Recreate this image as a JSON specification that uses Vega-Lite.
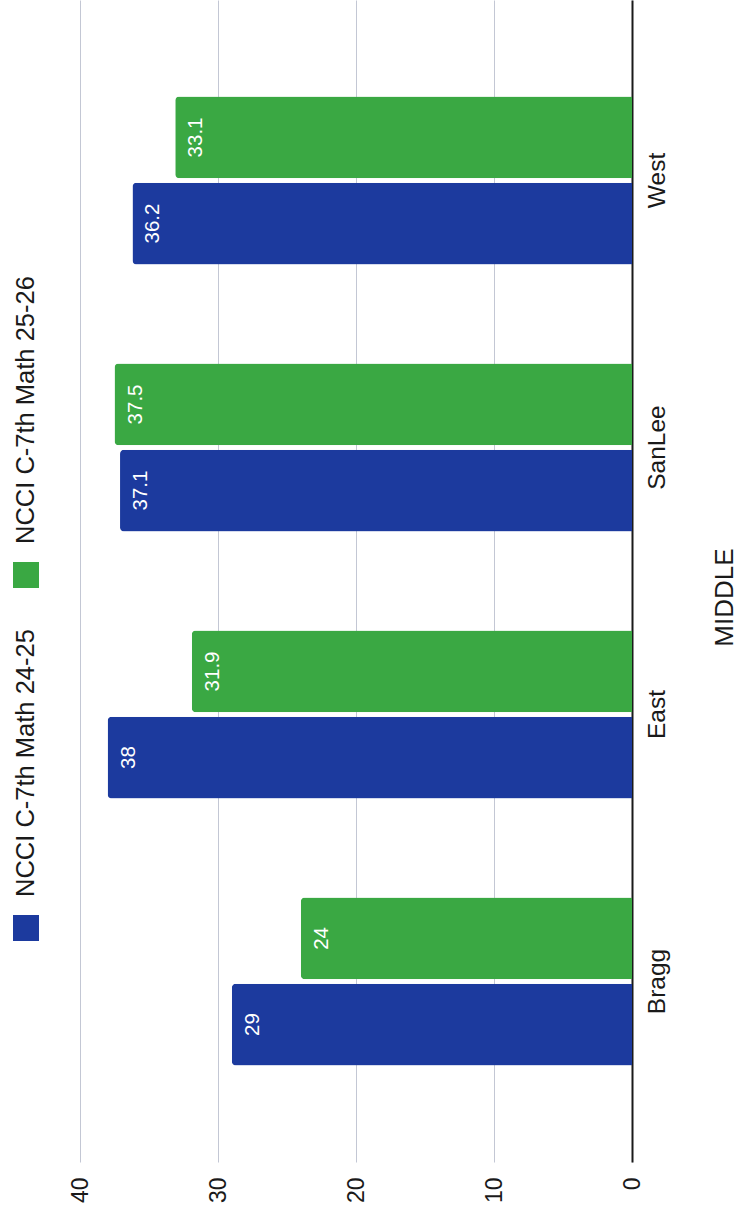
{
  "$schema": "https://vega.github.io/schema/vega-lite/v6.json",
  "padding": 0,
  "background": "white",
  "config": {
    "font": "Liberation Sans",
    "view": {"stroke": null}
  },
  "spacing": 28,
  "bounds": "flush",
  "resolve": {"scale": {"y": "independent", "color": "independent"}},
  "hconcat": [
    {
      "width": 52,
      "height": 1059,
      "data": {"values": [
        {"series": "NCCI C-7th Math 24-25"},
        {"series": "NCCI C-7th Math 25-26"}
      ]},
      "encoding": {
        "y": {
          "field": "series",
          "type": "nominal",
          "sort": ["NCCI C-7th Math 25-26", "NCCI C-7th Math 24-25"],
          "scale": {"type": "point", "padding": 1},
          "axis": null
        }
      },
      "layer": [
        {
          "mark": {"type": "square", "size": 676, "filled": true, "opacity": 1, "yOffset": 222, "cornerRadius": 3},
          "encoding": {
            "color": {
              "field": "series",
              "type": "nominal",
              "scale": {"domain": ["NCCI C-7th Math 24-25", "NCCI C-7th Math 25-26"], "range": ["#1c3a9e", "#3aa843"]},
              "legend": null
            }
          }
        },
        {
          "mark": {"type": "text", "angle": 270, "align": "left", "baseline": "middle", "fontSize": 25.5, "color": "#1a1a1a", "yOffset": 191},
          "encoding": {
            "text": {"field": "series", "type": "nominal"}
          }
        }
      ]
    },
    {
      "width": 552,
      "height": 1162,
      "data": {"values": [
        {"school": "Bragg", "series": "NCCI C-7th Math 24-25", "value": 29, "label": "29"},
        {"school": "Bragg", "series": "NCCI C-7th Math 25-26", "value": 24, "label": "24"},
        {"school": "East", "series": "NCCI C-7th Math 24-25", "value": 38, "label": "38"},
        {"school": "East", "series": "NCCI C-7th Math 25-26", "value": 31.9, "label": "31.9"},
        {"school": "SanLee", "series": "NCCI C-7th Math 24-25", "value": 37.1, "label": "37.1"},
        {"school": "SanLee", "series": "NCCI C-7th Math 25-26", "value": 37.5, "label": "37.5"},
        {"school": "West", "series": "NCCI C-7th Math 24-25", "value": 36.2, "label": "36.2"},
        {"school": "West", "series": "NCCI C-7th Math 25-26", "value": 33.1, "label": "33.1"}
      ]},
      "encoding": {
        "y": {
          "field": "school",
          "type": "nominal",
          "sort": ["West", "SanLee", "East", "Bragg"],
          "scale": {"paddingInner": 0.371, "paddingOuter": 0.3615},
          "axis": {
            "orient": "right",
            "title": "MIDDLE",
            "titleAngle": 270,
            "titleBaseline": "top",
            "titleAlign": "center",
            "titleY": 597,
            "titleFontSize": 26,
            "titleFontWeight": "normal",
            "titleColor": "#1a1a1a",
            "titlePadding": 43,
            "labelAngle": 270,
            "labelAlign": "center",
            "labelBaseline": "top",
            "labelFontSize": 24.5,
            "labelColor": "#1a1a1a",
            "labelPadding": 13,
            "ticks": false,
            "tickSize": 0,
            "domain": true,
            "domainColor": "#1a1a1a",
            "domainWidth": 2,
            "grid": false
          }
        },
        "yOffset": {
          "field": "series",
          "type": "nominal",
          "sort": ["NCCI C-7th Math 25-26", "NCCI C-7th Math 24-25"],
          "scale": {"paddingInner": 0.05, "paddingOuter": 0}
        },
        "x": {
          "field": "value",
          "type": "quantitative",
          "scale": {"domain": [0, 40], "reverse": true, "nice": false, "zero": true},
          "axis": {
            "orient": "bottom",
            "title": null,
            "values": [0, 10, 20, 30, 40],
            "grid": true,
            "gridColor": "#c3c7d4",
            "gridWidth": 1,
            "domain": false,
            "ticks": false,
            "tickSize": 0,
            "labelAngle": 270,
            "labelAlign": "right",
            "labelBaseline": "middle",
            "labelFontSize": 23,
            "labelColor": "#1a1a1a",
            "labelPadding": 15
          }
        }
      },
      "layer": [
        {
          "mark": {"type": "bar", "cornerRadiusTopLeft": 4, "cornerRadiusBottomLeft": 4},
          "encoding": {
            "color": {
              "field": "series",
              "type": "nominal",
              "scale": {"domain": ["NCCI C-7th Math 24-25", "NCCI C-7th Math 25-26"], "range": ["#1c3a9e", "#3aa843"]},
              "legend": null
            }
          }
        },
        {
          "mark": {"type": "text", "angle": 270, "align": "center", "baseline": "top", "dy": 11, "fontSize": 20.5, "color": "white"},
          "encoding": {
            "text": {"field": "label", "type": "nominal"}
          }
        }
      ]
    }
  ]
}
